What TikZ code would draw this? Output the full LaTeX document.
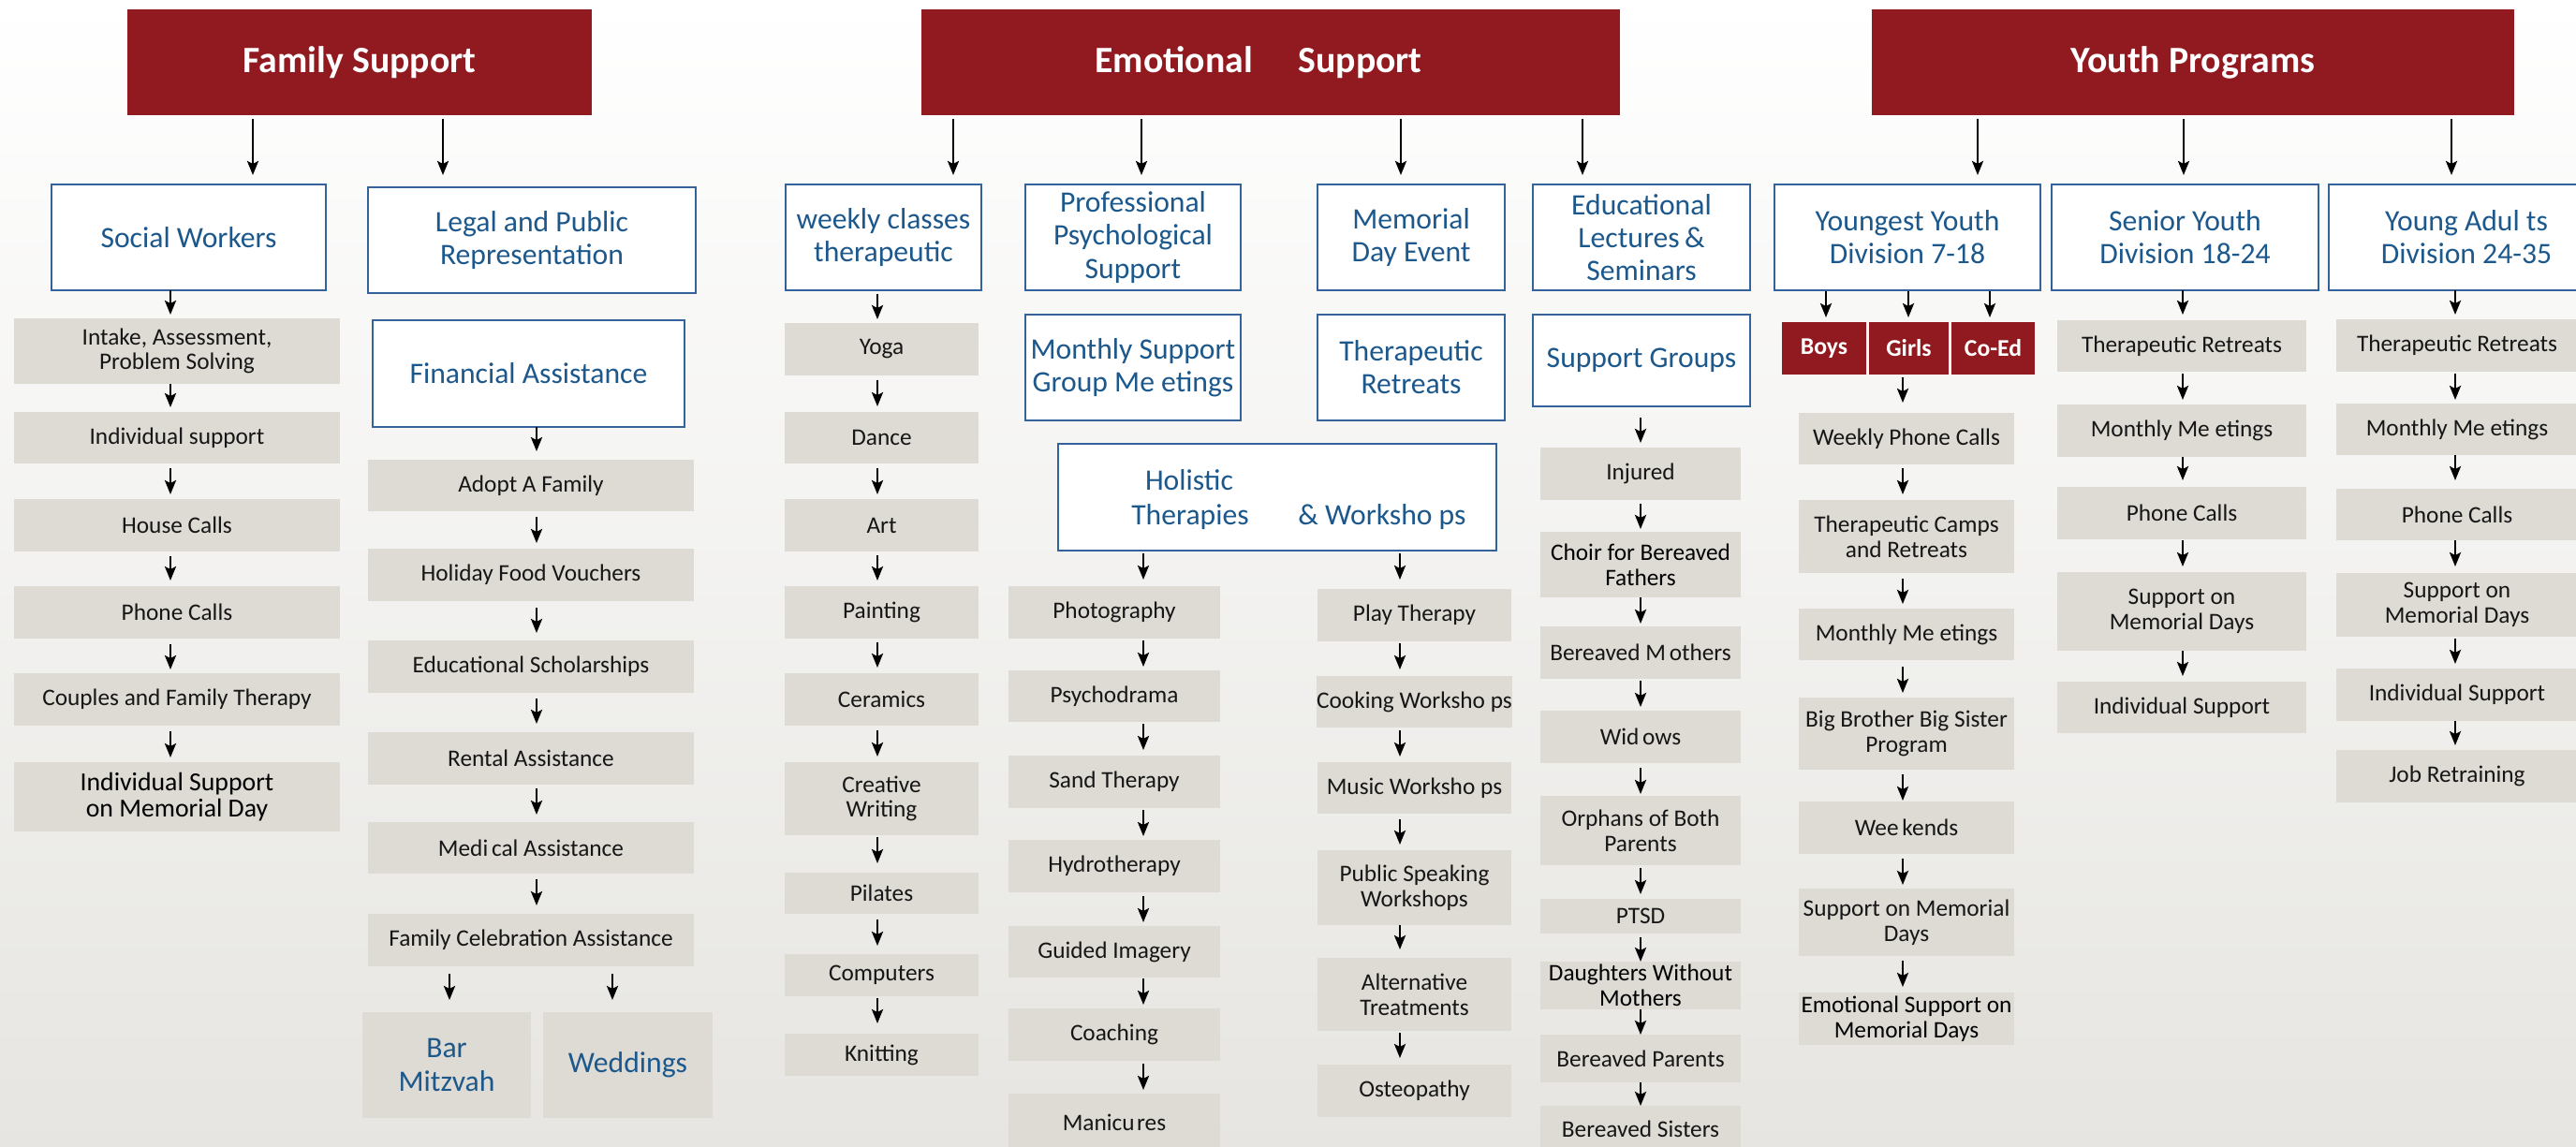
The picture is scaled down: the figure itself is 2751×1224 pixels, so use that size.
\documentclass[tikz,border=0pt]{standalone}
\usepackage{fontspec}
\setmainfont{Carlito}
\usetikzlibrary{arrows.meta}
\definecolor{dred}{RGB}{145,26,32}
\definecolor{gboxc}{RGB}{221,219,212}
\definecolor{bborder}{RGB}{52,98,155}
\definecolor{btext}{RGB}{28,88,140}
\definecolor{gtext}{RGB}{22,22,22}
\definecolor{bgbot}{RGB}{230,229,225}
\newcommand\fntG{\fontsize{7.2pt}{7.6pt}\selectfont}
\newcommand\fntM{\fontsize{7.9pt}{8.1pt}\selectfont}
\newcommand\fntB{\fontsize{9pt}{10pt}\selectfont}
\newcommand\fntT{\fontsize{11.3pt}{12pt}\selectfont\bfseries}
\newcommand\fntS{\fontsize{7.3pt}{8pt}\selectfont\bfseries}
\newcommand\BX[7]{\node[#1,minimum width={(#5-#3)*0.01cm},minimum height={(#6-#4)*0.01cm}] (#2) at ({(#3+#5)/2},{(#4+#6)/2}) {#7};}
\newcommand\AR[5]{\draw[arr,shorten <={#4*0.01cm},shorten >={#5*0.01cm}] (#2.south -| #1,0) -- (#3.north -| #1,0);}
\begin{document}
\begin{tikzpicture}[x=0.01cm,y=-0.01cm,
  gbox/.style={fill=gboxc,inner sep=0pt,outer sep=0pt,align=center,text=gtext,font=\fntG},
  gboxd/.style={gbox,text=black},
  gboxm/.style={gbox,text=black,font=\fntM},
  gboxb/.style={gbox,text=btext,font=\fntB},
  bbox/.style={draw=bborder,line width=0.025cm,fill=white,inner sep=0pt,outer sep=0pt,align=center,text=btext,font=\fntB},
  htext/.style={text=btext,font=\fntB,inner sep=0pt,anchor=base},
  rbox/.style={fill=dred,inner sep=0pt,outer sep=0pt,align=center,text=white,font=\fntT},
  sbox/.style={fill=dred,inner sep=0pt,outer sep=0pt,align=center,text=white,font=\fntS},
  arr/.style={draw=black,line width=0.025cm,-{Stealth[length=0.15cm,width=0.12cm,inset=0.03cm]}}]
\useasboundingbox (0,0) rectangle (2751,1224);
\clip (0,0) rectangle (2751,1224);
\shade[top color=white,bottom color=bgbot] (0,0) rectangle (2751,1224);

% titles
\BX{rbox}{fs}{136}{10}{632}{123}{Family Support}
\BX{rbox}{es}{984}{10}{1730}{123}{Emotional\hspace{1em} Support\kern0.26cm}
\BX{rbox}{yp}{1999}{10}{2685}{123}{Youth Programs}

% blue boxes
\BX{bbox}{sw}{55}{197}{348}{310}{Social Workers}
\BX{bbox}{lpr}{393}{200}{743}{313}{Legal and Public\\Representation}
\BX{bbox}{fa}{398}{342}{731}{456}{Financial Assistance}
\BX{bbox}{wct}{839}{197}{1048}{310}{weekly classes\\therapeutic}
\BX{bbox}{pps}{1095}{197}{1325}{310}{Professional\\Psychological\\Support}
\BX{bbox}{mde}{1407}{197}{1607}{310}{Memorial\\Day Event}
\BX{bbox}{els}{1637}{197}{1869}{310}{Educational\\Lectures\,\&\\Seminars}
\BX{bbox}{msgm}{1095}{336}{1325}{449}{Monthly Support\\Group Me etings}
\BX{bbox}{tret}{1407}{336}{1607}{449}{Therapeutic\\Retreats}
\BX{bbox}{sg}{1637}{336}{1869}{434}{Support Groups}
\BX{bbox}{hol}{1130}{474}{1598}{588}{}
\node[htext] (holA) at (1270,523) {Holistic};
\node[htext] (holB) at (1271,560) {Therapies};
\node[htext] (holC) at (1476,560) {\& Worksho ps};
\BX{bbox}{yy}{1895}{197}{2179}{310}{Youngest Youth\\Division 7-18}
\BX{bbox}{sy}{2191}{197}{2476}{310}{Senior Youth\\Division 18-24}
\BX{bbox}{ya}{2487}{197}{2781}{310}{Young Adul ts\\Division 24-35}

% small red boxes
\BX{sbox}{boys}{1903}{344}{1993}{400}{Boys}
\BX{sbox}{girls}{1996}{344}{2081}{400}{Girls}
\BX{sbox}{coed}{2084}{344}{2173}{400}{Co-Ed}

% social workers column
\BX{gbox}{g1}{15}{340}{363}{410}{Intake, Assessment,\\Problem Solving}
\BX{gbox}{g2}{15}{440}{363}{495}{Individual support}
\BX{gbox}{g3}{15}{533}{363}{589}{House Calls}
\BX{gbox}{g4}{15}{626}{363}{682}{Phone Calls}
\BX{gbox}{g5}{15}{719}{363}{775}{Couples and Family Therapy}
\BX{gboxm}{g6}{15}{814}{363}{888}{Individual Support\\on Memorial Day}

% financial column
\BX{gbox}{f1}{393}{491}{741}{546}{Adopt A Family}
\BX{gbox}{f2}{393}{586}{741}{642}{Holiday Food Vouchers}
\BX{gbox}{f3}{393}{684}{741}{740}{Educational Scholarships}
\BX{gbox}{f4}{393}{782}{741}{838}{Rental Assistance}
\BX{gbox}{f5}{393}{878}{741}{933}{Medi\hspace{0.15em}cal Assistance}
\BX{gbox}{f6}{393}{976}{741}{1032}{Family Celebration Assistance}
\BX{gboxb}{bar}{387}{1081}{567}{1194}{Bar\\Mitzvah}
\BX{gboxb}{wed}{580}{1081}{761}{1194}{Weddings}

% weekly classes column
\BX{gbox}{w1}{838}{345}{1045}{401}{Yoga}
\BX{gbox}{w2}{838}{440}{1045}{495}{Dance}
\BX{gbox}{w3}{838}{533}{1045}{589}{Art}
\BX{gbox}{w4}{838}{626}{1045}{682}{Painting}
\BX{gbox}{w5}{838}{719}{1045}{775}{Ceramics}
\BX{gbox}{w6}{838}{814}{1045}{892}{Creative\\Writing}
\BX{gbox}{w7}{838}{932}{1045}{976}{Pilates}
\BX{gbox}{w8}{838}{1019}{1045}{1064}{Computers}
\BX{gbox}{w9}{838}{1104}{1045}{1149}{Knitting}

% holistic therapies column
\BX{gbox}{h1}{1077}{626}{1303}{682}{Photography}
\BX{gbox}{h2}{1077}{716}{1303}{771}{Psychodrama}
\BX{gbox}{h3}{1077}{807}{1303}{863}{Sand Therapy}
\BX{gbox}{h4}{1077}{897}{1303}{953}{Hydrotherapy}
\BX{gbox}{h5}{1077}{989}{1303}{1044}{Guided Imagery}
\BX{gbox}{h6}{1077}{1077}{1303}{1133}{Coaching}
\BX{gbox}{h7}{1077}{1168}{1303}{1230}{Manicu\hspace{0.1em}res}

% workshops column
\BX{gbox}{k1}{1407}{629}{1614}{685}{Play Therapy}
\BX{gbox}{k2}{1407}{722}{1614}{777}{Cooking Worksho ps}
\BX{gbox}{k3}{1407}{814}{1614}{869}{Music Worksho ps}
\BX{gbox}{k4}{1407}{908}{1614}{988}{Public Speaking\\Workshops}
\BX{gbox}{k5}{1407}{1023}{1614}{1101}{Alternative\\Treatments}
\BX{gbox}{k6}{1407}{1137}{1614}{1193}{Osteopathy}

% support groups column
\BX{gbox}{s1}{1645}{478}{1859}{534}{Injured}
\BX{gboxd}{s2}{1645}{568}{1859}{638}{Choir for Bereaved\\Fathers}
\BX{gbox}{s3}{1645}{669}{1859}{725}{Bereaved M\hspace{0.15em}others}
\BX{gbox}{s4}{1645}{759}{1859}{815}{Wid\hspace{0.15em}ows}
\BX{gbox}{s5}{1645}{850}{1859}{924}{Orphans of Both\\Parents}
\BX{gbox}{s6}{1645}{960}{1859}{997}{PTSD}
\BX{gboxd}{s7}{1645}{1027}{1859}{1078}{Daughters Without\\Mothers}
\BX{gbox}{s8}{1645}{1105}{1859}{1156}{Bereaved Parents}
\BX{gbox}{s9}{1645}{1181}{1859}{1230}{Bereaved Sisters}

% youngest youth column
\BX{gbox}{y1}{1921}{441}{2151}{496}{Weekly Phone Calls}
\BX{gbox}{y2}{1921}{534}{2151}{612}{Therapeutic Camps\\and Retreats}
\BX{gbox}{y3}{1921}{650}{2151}{705}{Monthly Me etings}
\BX{gbox}{y4}{1921}{745}{2151}{822}{Big Brother Big Sister\\Program}
\BX{gbox}{y5}{1921}{856}{2151}{912}{Wee\hspace{0.15em}kends}
\BX{gbox}{y6}{1921}{949}{2151}{1021}{Support on Memorial\\Days}
\BX{gboxd}{y7}{1921}{1060}{2151}{1116}{Emotional Support on\\Memorial Days}

% senior youth column
\BX{gbox}{t1}{2197}{342}{2463}{397}{Therapeutic Retreats}
\BX{gbox}{t2}{2197}{432}{2463}{488}{Monthly Me etings}
\BX{gbox}{t3}{2197}{520}{2463}{576}{Phone Calls}
\BX{gbox}{t4}{2197}{611}{2463}{695}{Support on\\Memorial Days}
\BX{gbox}{t5}{2197}{728}{2463}{783}{Individual Support}

% young adults column
\BX{gbox}{a1}{2495}{341}{2753}{397}{Therapeutic Retreats}
\BX{gbox}{a2}{2495}{431}{2753}{486}{Monthly Me etings}
\BX{gbox}{a3}{2495}{522}{2753}{577}{Phone Calls}
\BX{gbox}{a4}{2495}{612}{2753}{680}{Support on\\Memorial Days}
\BX{gbox}{a5}{2495}{714}{2753}{770}{Individual Support}
\BX{gbox}{a6}{2495}{801}{2753}{857}{Job Retraining}

% top arrows
\AR{270}{fs}{sw}{4}{10}
\AR{473}{fs}{lpr}{4}{13}
\AR{1018}{es}{wct}{4}{10}
\AR{1219}{es}{pps}{4}{10}
\AR{1496}{es}{mde}{4}{10}
\AR{1690}{es}{els}{4}{10}
\AR{2112}{yp}{yy}{4}{10}
\AR{2332}{yp}{sy}{4}{10}
\AR{2618}{yp}{ya}{4}{10}

% social workers chain
\AR{182}{sw}{g1}{0}{4}
\AR{182}{g1}{g2}{0}{5}
\AR{182}{g2}{g3}{5}{5}
\AR{182}{g3}{g4}{5}{6}
\AR{182}{g4}{g5}{6}{4}
\AR{182}{g5}{g6}{6}{5}

% financial chain
\AR{573}{fa}{f1}{0}{9}
\AR{573}{f1}{f2}{6}{6}
\AR{573}{f2}{f3}{7}{8}
\AR{573}{f3}{f4}{6}{9}
\AR{573}{f4}{f5}{4}{8}
\AR{573}{f5}{f6}{6}{9}
\AR{480}{f6}{bar}{8}{13}
\AR{654}{f6}{wed}{8}{13}

% weekly chain
\AR{937}{wct}{w1}{4}{4}
\AR{937}{w1}{w2}{5}{6}
\AR{937}{w2}{w3}{5}{5}
\AR{937}{w3}{w4}{4}{6}
\AR{937}{w4}{w5}{4}{6}
\AR{937}{w5}{w6}{5}{6}
\AR{937}{w6}{w7}{2}{10}
\AR{937}{w7}{w8}{6}{9}
\AR{937}{w8}{w9}{2}{11}

% holistic chains
\AR{1221}{hol}{h1}{3}{7}
\AR{1221}{h1}{h2}{2}{4}
\AR{1221}{h2}{h3}{2}{6}
\AR{1221}{h3}{h4}{2}{4}
\AR{1221}{h4}{h5}{4}{4}
\AR{1221}{h5}{h6}{1}{4}
\AR{1221}{h6}{h7}{3}{4}
\AR{1495}{hol}{k1}{3}{10}
\AR{1495}{k1}{k2}{2}{7}
\AR{1495}{k2}{k3}{3}{6}
\AR{1495}{k3}{k4}{6}{6}
\AR{1495}{k4}{k5}{0}{9}
\AR{1495}{k5}{k6}{2}{7}

% support groups chain
\AR{1752}{sg}{s1}{12}{5}
\AR{1752}{s1}{s2}{4}{3}
\AR{1752}{s2}{s3}{0}{3}
\AR{1752}{s3}{s4}{2}{4}
\AR{1752}{s4}{s5}{5}{2}
\AR{1752}{s5}{s6}{3}{5}
\AR{1752}{s6}{s7}{4}{0}
\AR{1752}{s7}{s8}{0}{0}
\AR{1752}{s8}{s9}{0}{0}

% youngest youth chain
\AR{1950}{yy}{boys}{1}{5}
\AR{2038}{yy}{girls}{1}{5}
\AR{2125}{yy}{coed}{1}{5}
\AR{2032}{girls}{y1}{3}{11}
\AR{2032}{y1}{y2}{4}{6}
\AR{2032}{y2}{y3}{6}{5}
\AR{2032}{y3}{y4}{7}{5}
\AR{2032}{y4}{y5}{5}{1}
\AR{2032}{y5}{y6}{5}{4}
\AR{2032}{y6}{y7}{5}{6}

% senior youth chain
\AR{2331}{sy}{t1}{0}{6}
\AR{2331}{t1}{t2}{2}{5}
\AR{2331}{t2}{t3}{0}{7}
\AR{2331}{t3}{t4}{1}{6}
\AR{2331}{t4}{t5}{0}{6}

% young adults chain
\AR{2622}{ya}{a1}{0}{5}
\AR{2622}{a1}{a2}{2}{4}
\AR{2622}{a2}{a3}{0}{9}
\AR{2622}{a3}{a4}{0}{7}
\AR{2622}{a4}{a5}{2}{5}
\AR{2622}{a5}{a6}{0}{5}
\end{tikzpicture}
\end{document}
